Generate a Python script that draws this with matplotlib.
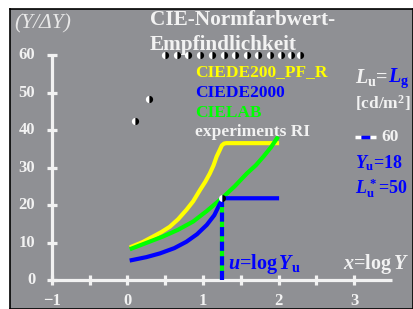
import matplotlib
matplotlib.use('Agg')
import matplotlib.pyplot as plt

plt.rcParams['font.family'] = ['Liberation Serif', 'DejaVu Serif']
plt.rcParams['font.weight'] = 'bold'
plt.rcParams['mathtext.fontset'] = 'custom'
plt.rcParams['mathtext.rm'] = 'Liberation Serif:bold'
plt.rcParams['mathtext.it'] = 'Liberation Serif:bold:italic'
plt.rcParams['mathtext.bf'] = 'Liberation Serif:bold'

# data (x = log Y, y = Y/dY)
yel_x = [0.056, 0.20, 0.34, 0.45, 0.56, 0.67, 0.78, 0.87, 0.96, 1.03, 1.09, 1.14,
         1.18, 1.22, 1.25, 1.28, 1.31, 1.98]
yel_y = [8.9, 10.1, 11.6, 12.8, 14.2, 16.2, 18.7, 21.0, 24.0, 26.2, 28.4, 30.6,
         32.9, 34.6, 35.9, 36.4, 36.5, 36.5]
grn_x = [0.056, 0.25, 0.47, 0.67, 0.87, 1.05, 1.25, 1.42, 1.58, 1.70, 1.80, 1.90, 1.98]
grn_y = [8.4, 9.9, 11.6, 13.4, 15.6, 18.4, 21.8, 25.0, 28.4, 30.6, 32.9, 35.4, 37.8]
blu_x = [0.056, 0.25, 0.43, 0.62, 0.78, 0.92, 1.05, 1.15, 1.225, 1.27, 1.98]
blu_y = [5.3, 6.1, 7.1, 8.5, 10.2, 12.2, 14.7, 17.3, 20.4, 21.8, 21.8]

dots_x = [0.10, 0.285, 0.50, 0.65, 0.80, 0.96, 1.12, 1.28, 1.42, 1.58, 1.73, 1.89, 2.03, 2.16, 2.29]
dots_y = [42.4, 48.3, 60, 60, 60, 60, 60, 60, 60, 60, 60, 60, 60, 60, 60]

u_x = 1.255   # log 18
u_y = 21.8

xticks = [-1, -0.5, 0, 0.5, 1, 1.5, 2, 2.5, 3]
xlabels = {-1: '\u22121', 0: '0', 1: '1', 2: '2', 3: '3'}
yticks = [0, 10, 20, 30, 40, 50, 60]

gray = '#8f9094'
white = '#f2f2f2'
blue = '#0000ff'
green = '#00ff00'
yellow = '#ffff00'

fig = plt.figure(figsize=(4.13, 3.09), dpi=100)
ax = fig.add_axes([10 / 413, 0, 403 / 413, 300 / 309])
ax.set_facecolor(gray)
ax.set_xlim(-1.556, 3.781)
ax.set_ylim(-7.73, 72.27)
ax.set_xticks([])
ax.set_yticks([])
for s in ax.spines.values():
    s.set_color('black')
    s.set_linewidth(1.2)

# axes with crossing ticks
ax.plot([-1, 3.5], [0, 0], color=white, lw=2.3, solid_capstyle='butt')
ax.plot([-1, -1], [0, 60], color=white, lw=2.3, solid_capstyle='butt')
for t in xticks:
    ax.plot([t, t], [-1.4, 1.4], color=white, lw=2.3, solid_capstyle='butt')
    if t in xlabels:
        ax.text(t, -5.6, xlabels[t], color=white, fontsize=12, ha='center', va='center')
for t in yticks:
    ax.plot([-1.07, -0.93], [t, t], color=white, lw=2.3, solid_capstyle='butt')
    ax.text(-1.22, t, str(t), color=white, fontsize=12, ha='right', va='center')

# curves
ax.plot(yel_x, yel_y, color=yellow, lw=3, solid_joinstyle='round')
ax.plot(grn_x, grn_y, color=green, lw=3, solid_joinstyle='round')
ax.plot(blu_x, blu_y, color=blue, lw=3, solid_joinstyle='round')

# vertical line at u = log Yu
ax.plot([u_x, u_x], [0, u_y], color=green, lw=3, solid_capstyle='butt')
ax.plot([u_x, u_x], [0, u_y], color=blue, lw=3, dashes=(2.2, 1.3))
ax.plot([u_x], [u_y], marker='o', ms=5, fillstyle='left', markerfacecolor='white',
        markerfacecoloralt='black', markeredgewidth=0, ls='none')

# experiment dots
ax.plot(dots_x, dots_y, marker='o', ms=5.2, fillstyle='left', markerfacecolor='white',
        markerfacecoloralt='black', markeredgewidth=0, ls='none', zorder=5)

# texts
ax.text(-1.503, 68.3, '(Y/\u0394Y)', color='#e8e8e8', fontsize=15.5, style='italic',
        weight='normal', ha='left', va='center')
ax.text(0.298, 69.3, 'CIE-Normfarbwert-', color=white, fontsize=15.3, ha='left', va='center')
ax.text(0.298, 62.7, 'Empfindlichkeit', color=white, fontsize=15.3, ha='left', va='center')

ax.text(0.894, 55.5, 'CIEDE200_PF_R', color=yellow, fontsize=12.5, ha='left', va='center')
ax.text(0.894, 49.9, 'CIEDE2000', color=blue, fontsize=12.5, ha='left', va='center')
ax.text(0.894, 44.5, 'CIELAB', color=green, fontsize=12.5, ha='left', va='center')
ax.text(0.894, 39.5, 'experiments RI', color=white, fontsize=12.5, ha='left', va='center')

t1 = ax.text(3.01, 53.9, r'$L_\mathrm{u}$=', color=white, fontsize=14.5, ha='left', va='center')
ax.annotate(r'$L_\mathrm{g}$', xy=(1, 0.5), xycoords=t1, color=blue, fontsize=14.5,
            ha='left', va='center')
ax.text(3.01, 47.2, '[cd/m$^\\mathrm{2}$]', color=white, fontsize=12.5, ha='left', va='center')
ax.plot([3.01, 3.09], [38.1, 38.1], color='white', lw=2.5, solid_capstyle='butt')
ax.plot([3.09, 3.21], [38.1, 38.1], color=blue, lw=2.5, solid_capstyle='butt')
ax.plot([3.21, 3.29], [38.1, 38.1], color='white', lw=2.5, solid_capstyle='butt')
ax.text(3.36, 38.1, '60', color=white, fontsize=12.5, ha='left', va='center')
ax.text(3.01, 31.2, r'$Y_\mathrm{u}$=18', color=blue, fontsize=13, ha='left', va='center')
ax.text(3.01, 24.5, r'$L^*_\mathrm{u}$=50', color=blue, fontsize=13, ha='left', va='center')

ax.text(1.33, 4.3, r'$u$=log$\,Y_\mathrm{u}$', color=blue, fontsize=14.5, ha='left', va='center')
ax.text(2.854, 4.3, r'$x$=log$\,Y$', color=white, fontsize=14.5, ha='left', va='center')

fig.savefig('out.png', dpi=100, facecolor='white')
